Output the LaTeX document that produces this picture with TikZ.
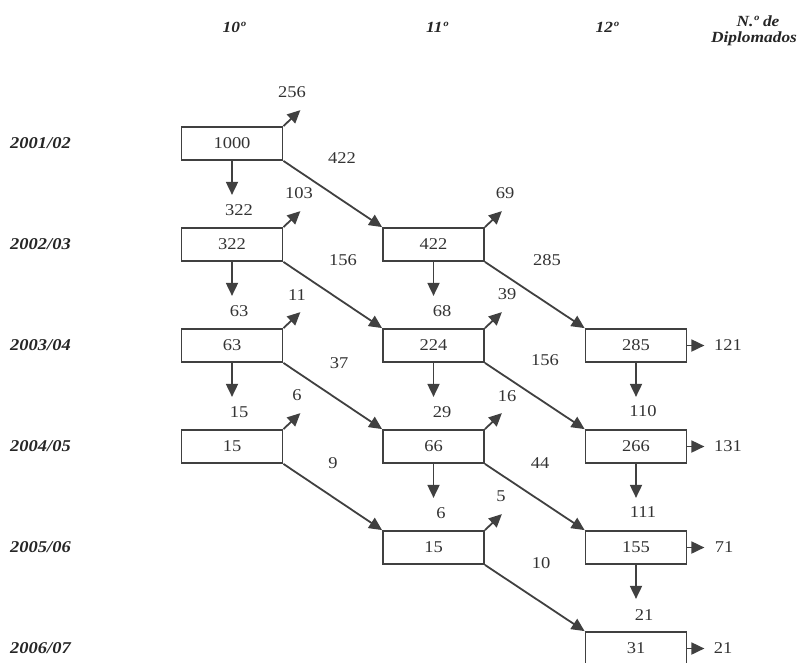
\documentclass[tikz,border=0pt]{standalone}
\usepackage{fontspec}
\setmainfont[FakeStretch=1.12]{Liberation Serif}
\usetikzlibrary{arrows.meta,calc}
\begin{document}
\begin{tikzpicture}[x=1pt,y=-1pt,
  box/.style={draw=black!75, line width=1.8pt, minimum width=101pt, minimum height=33pt, inner sep=0pt, text=black!80, font=\fontsize{16.5}{18}\selectfont},
  num/.style={text=black!80, font=\fontsize{16.5}{18}\selectfont, inner sep=0pt},
  yr/.style={text=black!85, font=\fontsize{16.5}{18}\selectfont\bfseries\itshape, anchor=west, inner sep=0pt},
  hd/.style={text=black!85, font=\fontsize{15.5}{18}\selectfont\bfseries\itshape, inner sep=0pt},
  flow/.style={draw=black!75, line width=1.8pt, -{Triangle[length=13pt,width=12pt]}},
]
\useasboundingbox (0,0) rectangle (800,662);

% headers
\node[hd] (h10) at (234,27) {10º};
\node[hd] (h11) at (437,27) {11º};
\node[hd] (h12) at (607,27) {12º};
\node[hd] (hn1) at (758,21) {N.º de};
\node[hd] (hn2) at (754,39) {Diplomados};

% years
\node[yr] (y1) at (10,143.5) {2001/02};
\node[yr] (y2) at (10,244.5) {2002/03};
\node[yr] (y3) at (10,345.5) {2003/04};
\node[yr] (y4) at (10,446.5) {2004/05};
\node[yr] (y5) at (10,547.5) {2005/06};
\node[yr] (y6) at (10,648.5) {2006/07};

% boxes
\node[box] (b11) at (232,143.5) {1000};
\node[box] (b21) at (232,244.5) {322};
\node[box] (b31) at (232,345.5) {63};
\node[box] (b41) at (232,446.5) {15};
\node[box] (b22) at (433.5,244.5) {422};
\node[box] (b32) at (433.5,345.5) {224};
\node[box] (b42) at (433.5,446.5) {66};
\node[box] (b52) at (433.5,547.5) {15};
\node[box] (b33) at (636,345.5) {285};
\node[box] (b43) at (636,446.5) {266};
\node[box] (b53) at (636,547.5) {155};
\node[box] (b63) at (636,648.5) {31};

% down arrows
\foreach \b in {b11,b21,b31,b22,b32,b42,b33,b43,b53}{
  \coordinate (\b d) at ($(\b.south)+(0,34)$);
  \draw[flow] (\b.south) -- (\b d);
}
% up-right arrows
\foreach \b in {b11,b21,b31,b41,b22,b32,b42,b52}{
  \coordinate (\b u) at ($(\b.north east)+(17,-16)$);
  \draw[flow] (\b.north east) -- (\b u);
}
% right arrows
\foreach \b in {b33,b43,b53,b63}{
  \coordinate (\b r) at ($(\b.east)+(17,0)$);
  \draw[flow] (\b.east) -- (\b r);
}
% diagonal arrows
\draw[flow] (b11.south east) -- (b22.north west);
\draw[flow] (b21.south east) -- (b32.north west);
\draw[flow] (b31.south east) -- (b42.north west);
\draw[flow] (b41.south east) -- (b52.north west);
\draw[flow] (b22.south east) -- (b33.north west);
\draw[flow] (b32.south east) -- (b43.north west);
\draw[flow] (b42.south east) -- (b53.north west);
\draw[flow] (b52.south east) -- (b63.north west);

% down labels
\node[num] (ld11) at (239,210) {322};
\node[num] (ld21) at (239,311) {63};
\node[num] (ld31) at (239,412) {15};
\node[num] (ld22) at (442,311) {68};
\node[num] (ld32) at (442,412) {29};
\node[num] (ld42) at (441,513) {6};
\node[num] (ld33) at (643,411) {110};
\node[num] (ld43) at (643,512) {111};
\node[num] (ld53) at (644,615) {21};

% up-right labels
\node[num] (lu11) at (292,92) {256};
\node[num] (lu21) at (299,193) {103};
\node[num] (lu31) at (297,295) {11};
\node[num] (lu41) at (297,395) {6};
\node[num] (lu22) at (505,193) {69};
\node[num] (lu32) at (507,294) {39};
\node[num] (lu42) at (507,396) {16};
\node[num] (lu52) at (501,496) {5};

% diagonal labels
\node[num] (lg11) at (342,158) {422};
\node[num] (lg21) at (343,260) {156};
\node[num] (lg31) at (339,363) {37};
\node[num] (lg41) at (333,463) {9};
\node[num] (lg22) at (547,260) {285};
\node[num] (lg32) at (545,360) {156};
\node[num] (lg42) at (540,463) {44};
\node[num] (lg52) at (541,563) {10};

% right labels
\node[num] (lr33) at (728,345.5) {121};
\node[num] (lr43) at (728,446.5) {131};
\node[num] (lr53) at (724,547.5) {71};
\node[num] (lr63) at (723,648.5) {21};
\end{tikzpicture}
\end{document}
